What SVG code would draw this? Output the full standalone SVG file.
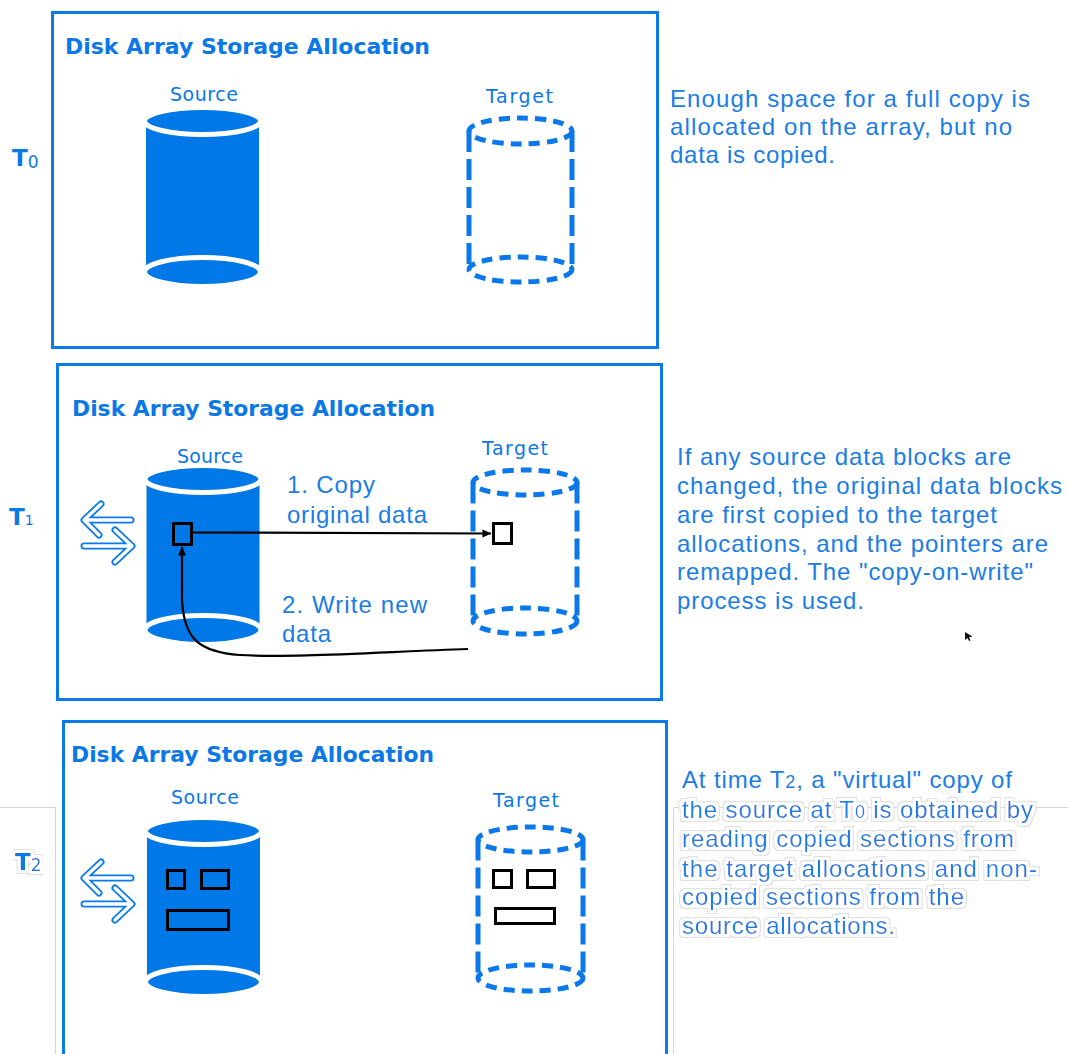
<svg xmlns="http://www.w3.org/2000/svg" width="1068" height="1054" viewBox="0 0 1068 1054">
  <style>
    .panel { fill: none; stroke: #0a7ae8; stroke-width: 3; }
    .title { font-family: "DejaVu Sans", sans-serif; font-weight: bold; font-size: 22px; fill: #0a78e6; }
    .lbl { font-family: "DejaVu Sans", sans-serif; font-size: 19px; fill: #0a78e6; }
    .desc { font-family: "Liberation Sans", Arial, sans-serif; font-size: 24px; fill: #1a7de6; }
    .tlab { font-family: "DejaVu Sans", sans-serif; font-weight: bold; font-size: 23px; fill: #0a78e6; }
    .sub { font-weight: normal; }
    .body { fill: #0078e8; }
    .cap { fill: #0078e8; stroke: #ffffff; stroke-width: 5; }
    .dring { fill: none; stroke: #0a78ea; stroke-width: 5; stroke-dasharray: 11 7; }
    .dside { fill: none; stroke: #0a78ea; stroke-width: 5; stroke-dasharray: 21 7; }
    .blk { stroke: #000; stroke-width: 3; }
    .conn { fill: none; stroke: #000; stroke-width: 2.2; }
    .icon-out { fill: none; stroke: #0a7ae8; stroke-width: 7; stroke-linecap: round; stroke-linejoin: round; }
    .icon-in { fill: none; stroke: #ffffff; stroke-width: 3.4; stroke-linecap: round; stroke-linejoin: round; }
    .faint { stroke: #d6d6d6; stroke-width: 1; fill: none; }
  </style>
  <defs>
    <marker id="head" viewBox="0 0 10 10" refX="9.5" refY="5" markerWidth="10" markerHeight="9" markerUnits="userSpaceOnUse" orient="auto">
      <path d="M0,0.5 L10,5 L0,9.5 Z" fill="#000"/>
    </marker>
    <!-- white halo with a thin grey rim behind text -->
    <filter id="halo" x="-5%" y="-30%" width="110%" height="160%">
      <feMorphology in="SourceAlpha" operator="dilate" radius="4" result="d4"/>
      <feFlood flood-color="#e0e0e0"/>
      <feComposite in2="d4" operator="in" result="rim"/>
      <feMorphology in="SourceAlpha" operator="dilate" radius="3" result="d3"/>
      <feFlood flood-color="#ffffff"/>
      <feComposite in2="d3" operator="in" result="fillw"/>
      <feMerge>
        <feMergeNode in="rim"/>
        <feMergeNode in="fillw"/>
        <feMergeNode in="SourceGraphic"/>
      </feMerge>
    </filter>
    <!-- outlined double arrow icon -->
    <g id="swap">
      <path class="icon-out" d="M101,504 L84,520 L99,535 M85,520 L131,520"/>
      <path class="icon-in" d="M101,504 L84,520 L99,535 M85,520 L131,520"/>
      <path class="icon-out" d="M115,530 L132,546 L115,562 M84,546 L131,546"/>
      <path class="icon-in" d="M115,530 L132,546 L115,562 M84,546 L131,546"/>
    </g>
  </defs>

  <rect width="1068" height="1054" fill="#ffffff"/>

  <!-- faint guide lines around the lower section -->
  <g id="guides">
    <path class="faint" d="M0,807.5 H55.5 V1054"/>
    <path class="faint" d="M673.5,1054 V807.5 H1068"/>
  </g>

  <!-- ============ T0 ============ -->
  <g id="panel-t0">
    <rect class="panel" x="52.5" y="12.5" width="605" height="335"/>
    <text class="title" x="65" y="54" textLength="365" lengthAdjust="spacingAndGlyphs">Disk Array Storage Allocation</text>
  </g>
  <g id="label-t0">
    <text class="tlab" x="12" y="166">T<tspan class="sub" font-size="17" dy="2">0</tspan></text>
  </g>
  <g id="source-t0">
    <text class="lbl" x="170" y="101" textLength="68">Source</text>
    <rect class="body" x="146" y="121" width="113" height="151"/>
    <ellipse class="cap" cx="202.5" cy="272" rx="58" ry="14.5"/>
    <ellipse class="cap" cx="202.5" cy="121" rx="58" ry="13.5"/>
  </g>
  <g id="target-t0">
    <text class="lbl" x="486" y="103" textLength="67">Target</text>
    <path class="dside" d="M469,131 V269.5 M572,131 V269.5"/>
    <ellipse class="dring" cx="520.5" cy="131" rx="51.5" ry="13"/>
    <ellipse class="dring" cx="520.5" cy="269.5" rx="51.5" ry="12.5"/>
  </g>
  <g id="note-t0">
    <text class="desc" x="670" y="107" textLength="360" lengthAdjust="spacing">Enough space for a full copy is</text>
    <text class="desc" x="670" y="135" textLength="342" lengthAdjust="spacing">allocated on the array, but no</text>
    <text class="desc" x="670" y="163" textLength="165" lengthAdjust="spacing">data is copied.</text>
  </g>

  <!-- ============ T1 ============ -->
  <g id="panel-t1">
    <rect class="panel" x="57.5" y="364.5" width="604" height="335"/>
    <text class="title" x="72" y="416" textLength="363" lengthAdjust="spacingAndGlyphs">Disk Array Storage Allocation</text>
  </g>
  <g id="label-t1">
    <text class="tlab" x="9" y="525">T<tspan class="sub" font-size="14">1</tspan></text>
  </g>
  <g id="io-t1">
    <use href="#swap"/>
  </g>
  <g id="source-t1">
    <text class="lbl" x="177" y="463" textLength="66">Source</text>
    <rect class="body" x="146.5" y="479" width="113" height="151"/>
    <ellipse class="cap" cx="203" cy="630" rx="58" ry="14.5"/>
    <ellipse class="cap" cx="203" cy="479" rx="58" ry="13.5"/>
    <rect class="blk" x="173.5" y="523.5" width="18" height="21" fill="none"/>
  </g>
  <g id="target-t1">
    <text class="lbl" x="482" y="455" textLength="66">Target</text>
    <path class="dside" d="M473,482.5 V621 M577,482.5 V621"/>
    <ellipse class="dring" cx="525" cy="482.5" rx="52" ry="12.5"/>
    <ellipse class="dring" cx="525" cy="621" rx="52" ry="13"/>
    <rect class="blk" x="493.5" y="523.5" width="18" height="20" fill="#ffffff"/>
  </g>
  <g id="step-labels">
    <text class="desc" x="287" y="493" textLength="88" lengthAdjust="spacing">1. Copy</text>
    <text class="desc" x="287" y="523" textLength="140" lengthAdjust="spacing">original data</text>
    <text class="desc" x="282" y="613" textLength="145" lengthAdjust="spacing">2. Write new</text>
    <text class="desc" x="282" y="642" textLength="49" lengthAdjust="spacing">data</text>
  </g>
  <g id="note-t1">
    <text class="desc" x="677" y="465" textLength="334" lengthAdjust="spacing">If any source data blocks are</text>
    <text class="desc" x="677" y="494" textLength="385" lengthAdjust="spacing">changed, the original data blocks</text>
    <text class="desc" x="677" y="523" textLength="320" lengthAdjust="spacing">are first copied to the target</text>
    <text class="desc" x="677" y="551.5" textLength="371" lengthAdjust="spacing">allocations, and the pointers are</text>
    <text class="desc" x="677" y="580" textLength="356" lengthAdjust="spacing">remapped. The "copy-on-write"</text>
    <text class="desc" x="677" y="609" textLength="187" lengthAdjust="spacing">process is used.</text>
  </g>
  <g id="pointer">
    <path d="M965,632 L972.5,636.5 L969,637.2 L970.5,640.5 L969,641 L967.5,638 L965,640 Z" fill="#111"/>
  </g>

  <!-- connectors between the source and target blocks -->
  <g id="connectors">
    <path class="conn" d="M193,532.5 L491,533.5" marker-end="url(#head)"/>
    <path class="conn" d="M468,649 C380,652 290,658 240,655 C200,652 184,640 182,600 L182,547" marker-end="url(#head)"/>
  </g>

  <!-- ============ T2 ============ -->
  <g id="panel-t2">
    <rect class="panel" x="63.5" y="721.5" width="603" height="345"/>
    <text class="title" x="71" y="762" textLength="363" lengthAdjust="spacingAndGlyphs">Disk Array Storage Allocation</text>
  </g>
  <g id="label-t2">
    <text class="tlab" x="15" y="870" filter="url(#halo)">T<tspan class="sub" font-size="17" dy="1">2</tspan></text>
  </g>
  <g id="io-t2">
    <use href="#swap" y="358"/>
  </g>
  <g id="source-t2">
    <text class="lbl" x="171" y="804" textLength="68">Source</text>
    <rect class="body" x="147" y="831" width="113" height="151"/>
    <ellipse class="cap" cx="203.5" cy="982" rx="58" ry="14.5"/>
    <ellipse class="cap" cx="203.5" cy="831" rx="58" ry="13.5"/>
    <rect class="blk" x="167.5" y="870.5" width="17" height="18" fill="none"/>
    <rect class="blk" x="201.5" y="870.5" width="27" height="18" fill="none"/>
    <rect class="blk" x="167.5" y="910.5" width="61" height="19" fill="none"/>
  </g>
  <g id="target-t2">
    <text class="lbl" x="493" y="807" textLength="66">Target</text>
    <path class="dside" d="M478,839.5 V978 M583,839.5 V978"/>
    <ellipse class="dring" cx="530.5" cy="839.5" rx="52.5" ry="12.5"/>
    <ellipse class="dring" cx="530.5" cy="978" rx="52.5" ry="13"/>
    <rect class="blk" x="493.5" y="870.5" width="18" height="17" fill="#ffffff"/>
    <rect class="blk" x="527.5" y="870.5" width="27" height="17" fill="#ffffff"/>
    <rect class="blk" x="495.5" y="908.5" width="59" height="15" fill="#ffffff"/>
  </g>
  <g id="note-t2">
    <text class="desc" x="682" y="788" textLength="330" lengthAdjust="spacing">At time T<tspan font-size="18">2</tspan>, a "virtual" copy of</text>
    <g filter="url(#halo)">
      <text class="desc" x="682" y="818" textLength="351" lengthAdjust="spacing">the source at T<tspan font-size="18">0</tspan> is obtained by</text>
      <text class="desc" x="682" y="847" textLength="332" lengthAdjust="spacing">reading copied sections from</text>
      <text class="desc" x="682" y="877" textLength="355" lengthAdjust="spacing">the target allocations and non-</text>
      <text class="desc" x="682" y="905" textLength="282" lengthAdjust="spacing">copied sections from the</text>
      <text class="desc" x="682" y="934" textLength="213" lengthAdjust="spacing">source allocations.</text>
    </g>
  </g>
</svg>
